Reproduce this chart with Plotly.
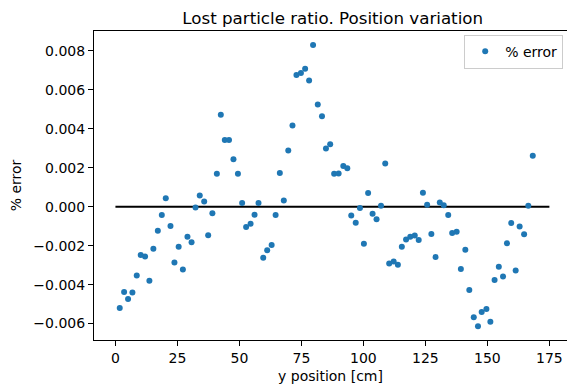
import plotly.graph_objects as go

# y position [cm]
y_position = [1.74, 3.5, 5.1, 6.85, 8.6, 10.2, 11.95, 13.7, 15.3, 17.1, 18.7, 20.3, 22.2, 23.8, 25.5, 27.2,
              29.05, 30.7, 32.3, 34.0, 35.8, 37.4, 39.1, 40.9, 42.5, 44.1, 45.8, 47.6, 49.4, 51.1, 52.7, 54.5, 56.1, 57.7,
              59.6, 61.2, 63.0, 64.6, 66.3, 67.9, 69.7, 71.4, 73.0, 74.8, 76.5, 78.1, 79.7, 81.6, 83.3, 84.9, 86.6, 88.2,
              90.0, 91.9, 93.5, 95.1, 96.9, 98.6, 100.2, 101.9, 103.7, 105.3, 107.1, 108.8, 110.4, 112.2, 113.9, 115.5, 117.2,
              118.9, 120.7, 122.3,
              124.0, 125.7, 127.4, 129.1, 130.8, 132.4, 134.2, 135.8, 137.6, 139.3, 141.1, 142.7, 144.5, 146.2, 147.7,
              149.6, 151.2,
              152.9, 154.6, 156.3, 157.9, 159.6, 161.4, 163.0, 164.8, 166.5, 168.3]

# % error
pct_error = [-0.00520, -0.00438, -0.00474, -0.00440, -0.00353, -0.00248, -0.00255, -0.00380, -0.00216, -0.00123,
             -0.00043, 0.00043, -0.00099, -0.00286, -0.00205, -0.00322,
             -0.00154, -0.00183, -0.00004, 0.00058, 0.00027, -0.00147, -0.00034, 0.00169, 0.00472, 0.00342, 0.00342,
             0.00243, 0.00169, 0.00019, -0.00104, -0.00087, -0.00041, 0.00019,
             -0.00262, -0.00224, -0.00197, -0.00043, 0.00173, 0.00032, 0.00289, 0.00417, 0.00676, 0.00686, 0.00708,
             0.00648, 0.00830, 0.00525, 0.00464, 0.00299, 0.00320, 0.00169,
             0.00171, 0.00209, 0.00197, -0.00045, -0.00082, -0.00007, -0.00190, 0.00070, -0.00036, -0.00065, 0.00005,
             0.00222, -0.00291, -0.00281, -0.00298, -0.00205, -0.00168,
             -0.00154, -0.00148, -0.00171,
             0.00072, 0.00010, -0.00140, -0.00258, 0.00021, 0.00007, -0.00043, -0.00135, -0.00128, -0.00320, -0.00221,
             -0.00428, -0.00568, -0.00614, -0.00541,
             -0.00525, -0.00591,
             -0.00376, -0.00308, -0.00358, -0.00188, -0.00084, -0.00327, -0.00101, -0.00142, 0.00005, 0.00262]

# reference line
ref_x = [0, 175]
ref_y = [0, 0]

x_ticks = [0, 25, 50, 75, 100, 125, 150, 175]
y_ticks = [-0.006, -0.004, -0.002, 0.000, 0.002, 0.004, 0.006, 0.008]
y_tick_text = ["\u22120.006", "\u22120.004", "\u22120.002", "0.000", "0.002", "0.004", "0.006", "0.008"]

FONT = "DejaVu Sans"

fig = go.Figure()
fig.add_trace(go.Scatter(x=ref_x, y=ref_y, mode="lines", line=dict(color="black", width=2.1),
                         showlegend=False, hoverinfo="skip"))
fig.add_trace(go.Scatter(x=y_position, y=pct_error, mode="markers", name="% error",
                         marker=dict(color="#1f77b4", size=6, line=dict(width=0))))

fig.update_layout(
    width=567, height=389,
    margin=dict(l=94, r=0, t=31, b=49),
    paper_bgcolor="white", plot_bgcolor="white",
    font=dict(family=FONT, size=14, color="black"),
    title=dict(text="Lost particle ratio. Position variation", font=dict(size=16.7, color="black"),
               x=0.5046, xref="paper", xanchor="center", y=1 - 23.5 / 389, yref="container", yanchor="bottom", pad=dict(b=0)),
    showlegend=True,
    legend=dict(x=0.992, y=0.988, xanchor="right", yanchor="top", bgcolor="white",
                bordercolor="#cccccc", borderwidth=1, font=dict(size=14), itemwidth=30),
)
fig.update_xaxes(range=[-8.64, 182.1], tickvals=x_ticks, ticks="outside", ticklen=5, tickwidth=1.1,
                 tickcolor="black", showline=True, linecolor="black", linewidth=1.1, mirror=True,
                 showgrid=False, zeroline=False,
                 title=dict(text="y position [cm]", font=dict(size=14), standoff=6))
fig.update_yaxes(range=[-0.006843, 0.00902], tickvals=y_ticks, ticktext=y_tick_text, ticks="outside", ticklen=5,
                 tickwidth=1.1, tickcolor="black", showline=True, linecolor="black", linewidth=1.1, mirror=False,
                 showgrid=False, zeroline=False,
                 title=dict(text="% error", font=dict(size=14), standoff=8))

fig.write_html("out.html")
